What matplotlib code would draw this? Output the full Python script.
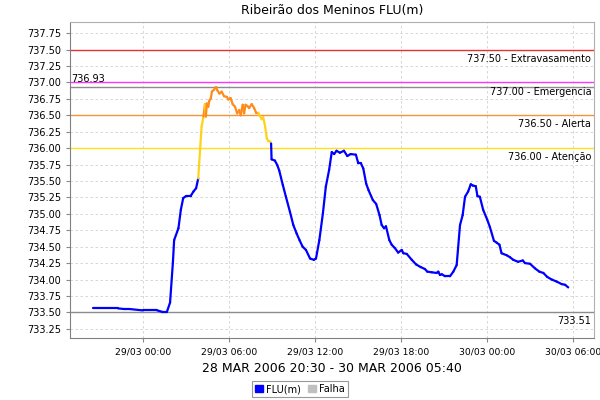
import pandas as pd
import matplotlib
matplotlib.use('Agg')
import matplotlib.pyplot as plt
import matplotlib.dates as mdates
from matplotlib.patches import Patch

# minutos a partir de 29/03/2006 00:00
minutos = [-209, -161, -104, -76, -54, -1, 59, 79, 100, 113, 125, 130, 148, 158, 168, 180,
           199, 211, 222, 231, 239, 245, 253, 259, 263, 267, 273, 277, 284, 288, 297,
           306, 311, 320, 329, 339, 351, 357, 367, 375, 385, 394, 403, 409, 417, 423,
           429, 437, 444, 455, 465, 473, 483, 489, 497, 503, 511, 518, 524, 532, 536,
           538, 552, 562, 570, 585, 598, 615, 629, 643, 655, 668, 682, 699, 715, 724,
           738, 753, 765, 779, 790, 800, 810, 824, 841, 855, 869, 891, 901, 912, 922,
           934, 944, 962, 976, 990, 999, 1009, 1017, 1031, 1041, 1054, 1068, 1083, 1090,
           1104, 1125, 1143, 1162, 1180, 1190, 1209, 1229, 1236, 1243, 1251, 1264, 1285,
           1299, 1313, 1327, 1338, 1348, 1361, 1372, 1381, 1393, 1400, 1410, 1424, 1441,
           1452, 1469, 1481, 1492, 1501, 1522, 1536, 1550, 1570, 1590, 1599, 1620, 1641,
           1659, 1676, 1692, 1711, 1731, 1753, 1767, 1780]
nivel = [733.56, 733.56, 733.56, 733.55, 733.55, 733.53, 733.53, 733.51, 733.51, 733.65,
         734.27, 734.60, 734.78, 735.06, 735.24, 735.27, 735.27, 735.34, 735.39, 735.54,
         736.00, 736.33, 736.48, 736.67, 736.48, 736.68, 736.63, 736.72, 736.76, 736.86,
         736.89, 736.93, 736.88, 736.83, 736.86, 736.79, 736.78, 736.74, 736.76, 736.67,
         736.63, 736.53, 736.58, 736.50, 736.66, 736.53, 736.66, 736.64, 736.61, 736.67,
         736.61, 736.54, 736.54, 736.49, 736.44, 736.47, 736.33, 736.15, 736.11, 736.10,
         736.07, 735.83, 735.81, 735.74, 735.66, 735.44, 735.26, 735.03, 734.83, 734.70,
         734.60, 734.50, 734.45, 734.32, 734.30, 734.32, 734.60, 735.01, 735.41, 735.67,
         735.94, 735.91, 735.96, 735.93, 735.96, 735.88, 735.91, 735.90, 735.77, 735.77,
         735.69, 735.46, 735.36, 735.21, 735.15, 734.98, 734.83, 734.78, 734.81, 734.60,
         734.53, 734.48, 734.41, 734.45, 734.40, 734.39, 734.30, 734.23, 734.19, 734.16,
         734.12, 734.11, 734.10, 734.12, 734.07, 734.08, 734.05, 734.05, 734.12, 734.22,
         734.83, 734.98, 735.26, 735.34, 735.45, 735.43, 735.42, 735.27, 735.26, 735.06,
         734.91, 734.80, 734.59, 734.56, 734.53, 734.40, 734.37, 734.34, 734.30, 734.27,
         734.29, 734.25, 734.24, 734.17, 734.12, 734.10, 734.04, 734.00, 733.97, 733.93,
         733.92, 733.88]

cotas = [737.50, 737.00, 736.50, 736.00]
nomes = ['Extravasamento', 'Emergencia', 'Alerta', 'Atenção']
cores_cotas = ['#e8312e', '#ff33ff', '#f5923a', '#ffe11a']
maximo = 736.93
minimo = 733.51

base = pd.Timestamp('2006-03-29 00:00')
tempo = [base + pd.Timedelta(minutes=m) for m in minutos]


def cor(v):
    if v >= 736.5:
        return '#ff8c1a'
    if v >= 736.0:
        return '#ffd21a'
    return '#0000ff'


fig = plt.figure(figsize=(6, 4), dpi=100)
ax = fig.add_axes([70 / 600, 62 / 400, 524 / 600, 316 / 400])

ax.grid(True, color='#d0d0d0', linestyle=(0, (3, 3)), linewidth=0.6)
ax.set_axisbelow(True)

for c, n, col in zip(cotas, nomes, cores_cotas):
    ax.axhline(c, color=col, linewidth=1)
    ax.annotate('%.2f - %s' % (c, n), xy=(1, c), xycoords=('axes fraction', 'data'),
                xytext=(-2, -3), textcoords='offset points', ha='right', va='top', fontsize=7)
ax.axhline(maximo, color='#8c8c8c', linewidth=1)
ax.annotate('%.2f' % maximo, xy=(0, maximo), xycoords=('axes fraction', 'data'),
            xytext=(1, 2), textcoords='offset points', ha='left', va='bottom', fontsize=7)
ax.axhline(minimo, color='#8c8c8c', linewidth=1)
ax.annotate('%.2f' % minimo, xy=(1, minimo), xycoords=('axes fraction', 'data'),
            xytext=(-2, -3), textcoords='offset points', ha='right', va='top', fontsize=7)

for i in range(1, len(tempo)):
    ax.plot(tempo[i - 1:i + 1], nivel[i - 1:i + 1], color=cor(nivel[i]), linewidth=1.6,
            solid_capstyle='round')

ax.set_ylim(733.11, 737.92)
ax.set_yticks([733.25 + 0.25 * k for k in range(19)])
ax.yaxis.set_major_formatter(plt.FormatStrFormatter('%.2f'))
ax.set_xlim(base + pd.Timedelta(minutes=-306), base + pd.Timedelta(minutes=1888))
ax.xaxis.set_major_locator(mdates.HourLocator(byhour=[0, 6, 12, 18]))
ax.xaxis.set_major_formatter(mdates.DateFormatter('%d/%m %H:%M'))
ax.tick_params(labelsize=7, length=3, color='#888888')
ax.tick_params(axis='x', labelsize=6.7)

for s in ax.spines.values():
    s.set_color('#b0b0b0')
ax.spines['left'].set_color('#808080')
ax.spines['bottom'].set_color('#808080')

ax.set_title('Ribeirão dos Meninos FLU(m)', fontsize=9, pad=6)
ax.set_xlabel('28 MAR 2006 20:30 - 30 MAR 2006 05:40', fontsize=9, labelpad=4)

handles = [Patch(facecolor='#0000ff', edgecolor='#0000ff', label='FLU(m)'),
           Patch(facecolor='#c0c0c0', edgecolor='#c0c0c0', label='Falha')]
leg = fig.legend(handles=handles, loc='center', bbox_to_anchor=(0.5, 1 - 389 / 400), ncol=2,
                 fontsize=7, fancybox=False, edgecolor='#808080', handlelength=0.8,
                 handleheight=0.8, handletextpad=0.3, columnspacing=0.8, borderpad=0.3)
leg.get_frame().set_linewidth(0.8)

plt.savefig('out.png')
